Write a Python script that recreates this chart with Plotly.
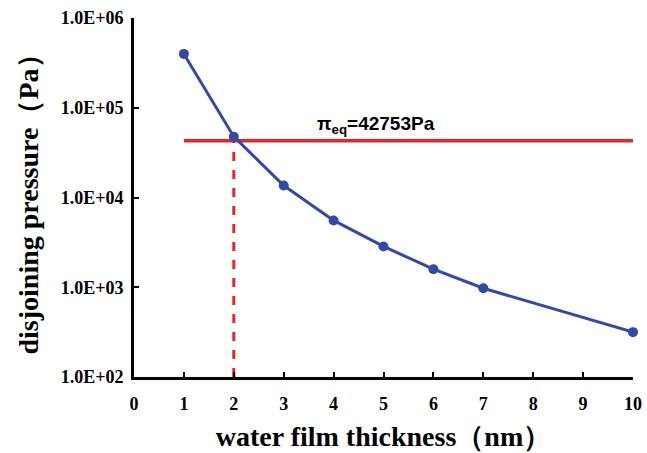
import numpy as np
import plotly.graph_objects as go

thickness = [1, 2, 3, 4, 5, 6, 7, 10]
pressure = [398000, 47600, 13600, 5550, 2850, 1590, 975, 316]
pi_eq = 42753
eq_thickness = 2
y_tickvals = [1e2, 1e3, 1e4, 1e5, 1e6]
y_ticktext = ["1.0E+02", "1.0E+03", "1.0E+04", "1.0E+05", "1.0E+06"]
x_tickvals = list(range(0, 11))

fig = go.Figure()
fig.add_trace(go.Scatter(x=[1, 10], y=[pi_eq, pi_eq], mode="lines",
                         line=dict(color="#E1262C", width=3.5), showlegend=False,
                         cliponaxis=False))
fig.add_trace(go.Scatter(x=[eq_thickness, eq_thickness], y=[100, pi_eq], mode="lines",
                         line=dict(color="#E1262C", width=3, dash="dash"), showlegend=False))
fig.add_trace(go.Scatter(x=thickness, y=pressure, mode="lines+markers",
                         line=dict(color="#3349A8", width=3),
                         marker=dict(color="#3349A8", size=10), showlegend=False,
                         cliponaxis=False))

fig.add_annotation(x=3.62, y=np.log10(pi_eq), xref="x", yref="y",
                   text="<b>π<sub>eq</sub>=42753Pa</b>", showarrow=False,
                   xanchor="left", yanchor="bottom", yshift=2,
                   font=dict(family="Liberation Sans", size=19, color="black"))

tickfont = dict(family="Liberation Serif", size=18, color="black")
titlefont = dict(family="Liberation Serif", size=28, color="black")

fig.update_xaxes(range=[0, 10], tickvals=x_tickvals,
                 ticktext=["<b>%d</b>" % v for v in x_tickvals],
                 ticks="inside", ticklen=5, automargin=False,
                 tickwidth=2, tickcolor="black", showline=True, linewidth=3,
                 linecolor="black", showgrid=False, zeroline=False,
                 tickfont=tickfont, ticklabelstandoff=8,
                 title=dict(text="<b>water film thickness（nm）</b>", font=titlefont, standoff=14))
fig.update_yaxes(type="log", range=[2, 6], tickvals=y_tickvals,
                 ticktext=["<b>%s</b>" % t for t in y_ticktext],
                 ticks="inside", ticklen=5, tickwidth=2, tickcolor="black",
                 showline=True, linewidth=3, linecolor="black", showgrid=False,
                 zeroline=False, tickfont=tickfont, ticklabelstandoff=4, automargin=False,
                 title=dict(text="<b>disjoining pressure（Pa）</b>", font=titlefont, standoff=14))

fig.update_layout(width=647, height=453, margin=dict(l=134, r=14, t=18, b=76),
                  plot_bgcolor="white", paper_bgcolor="white")
fig.write_html("out.html")
